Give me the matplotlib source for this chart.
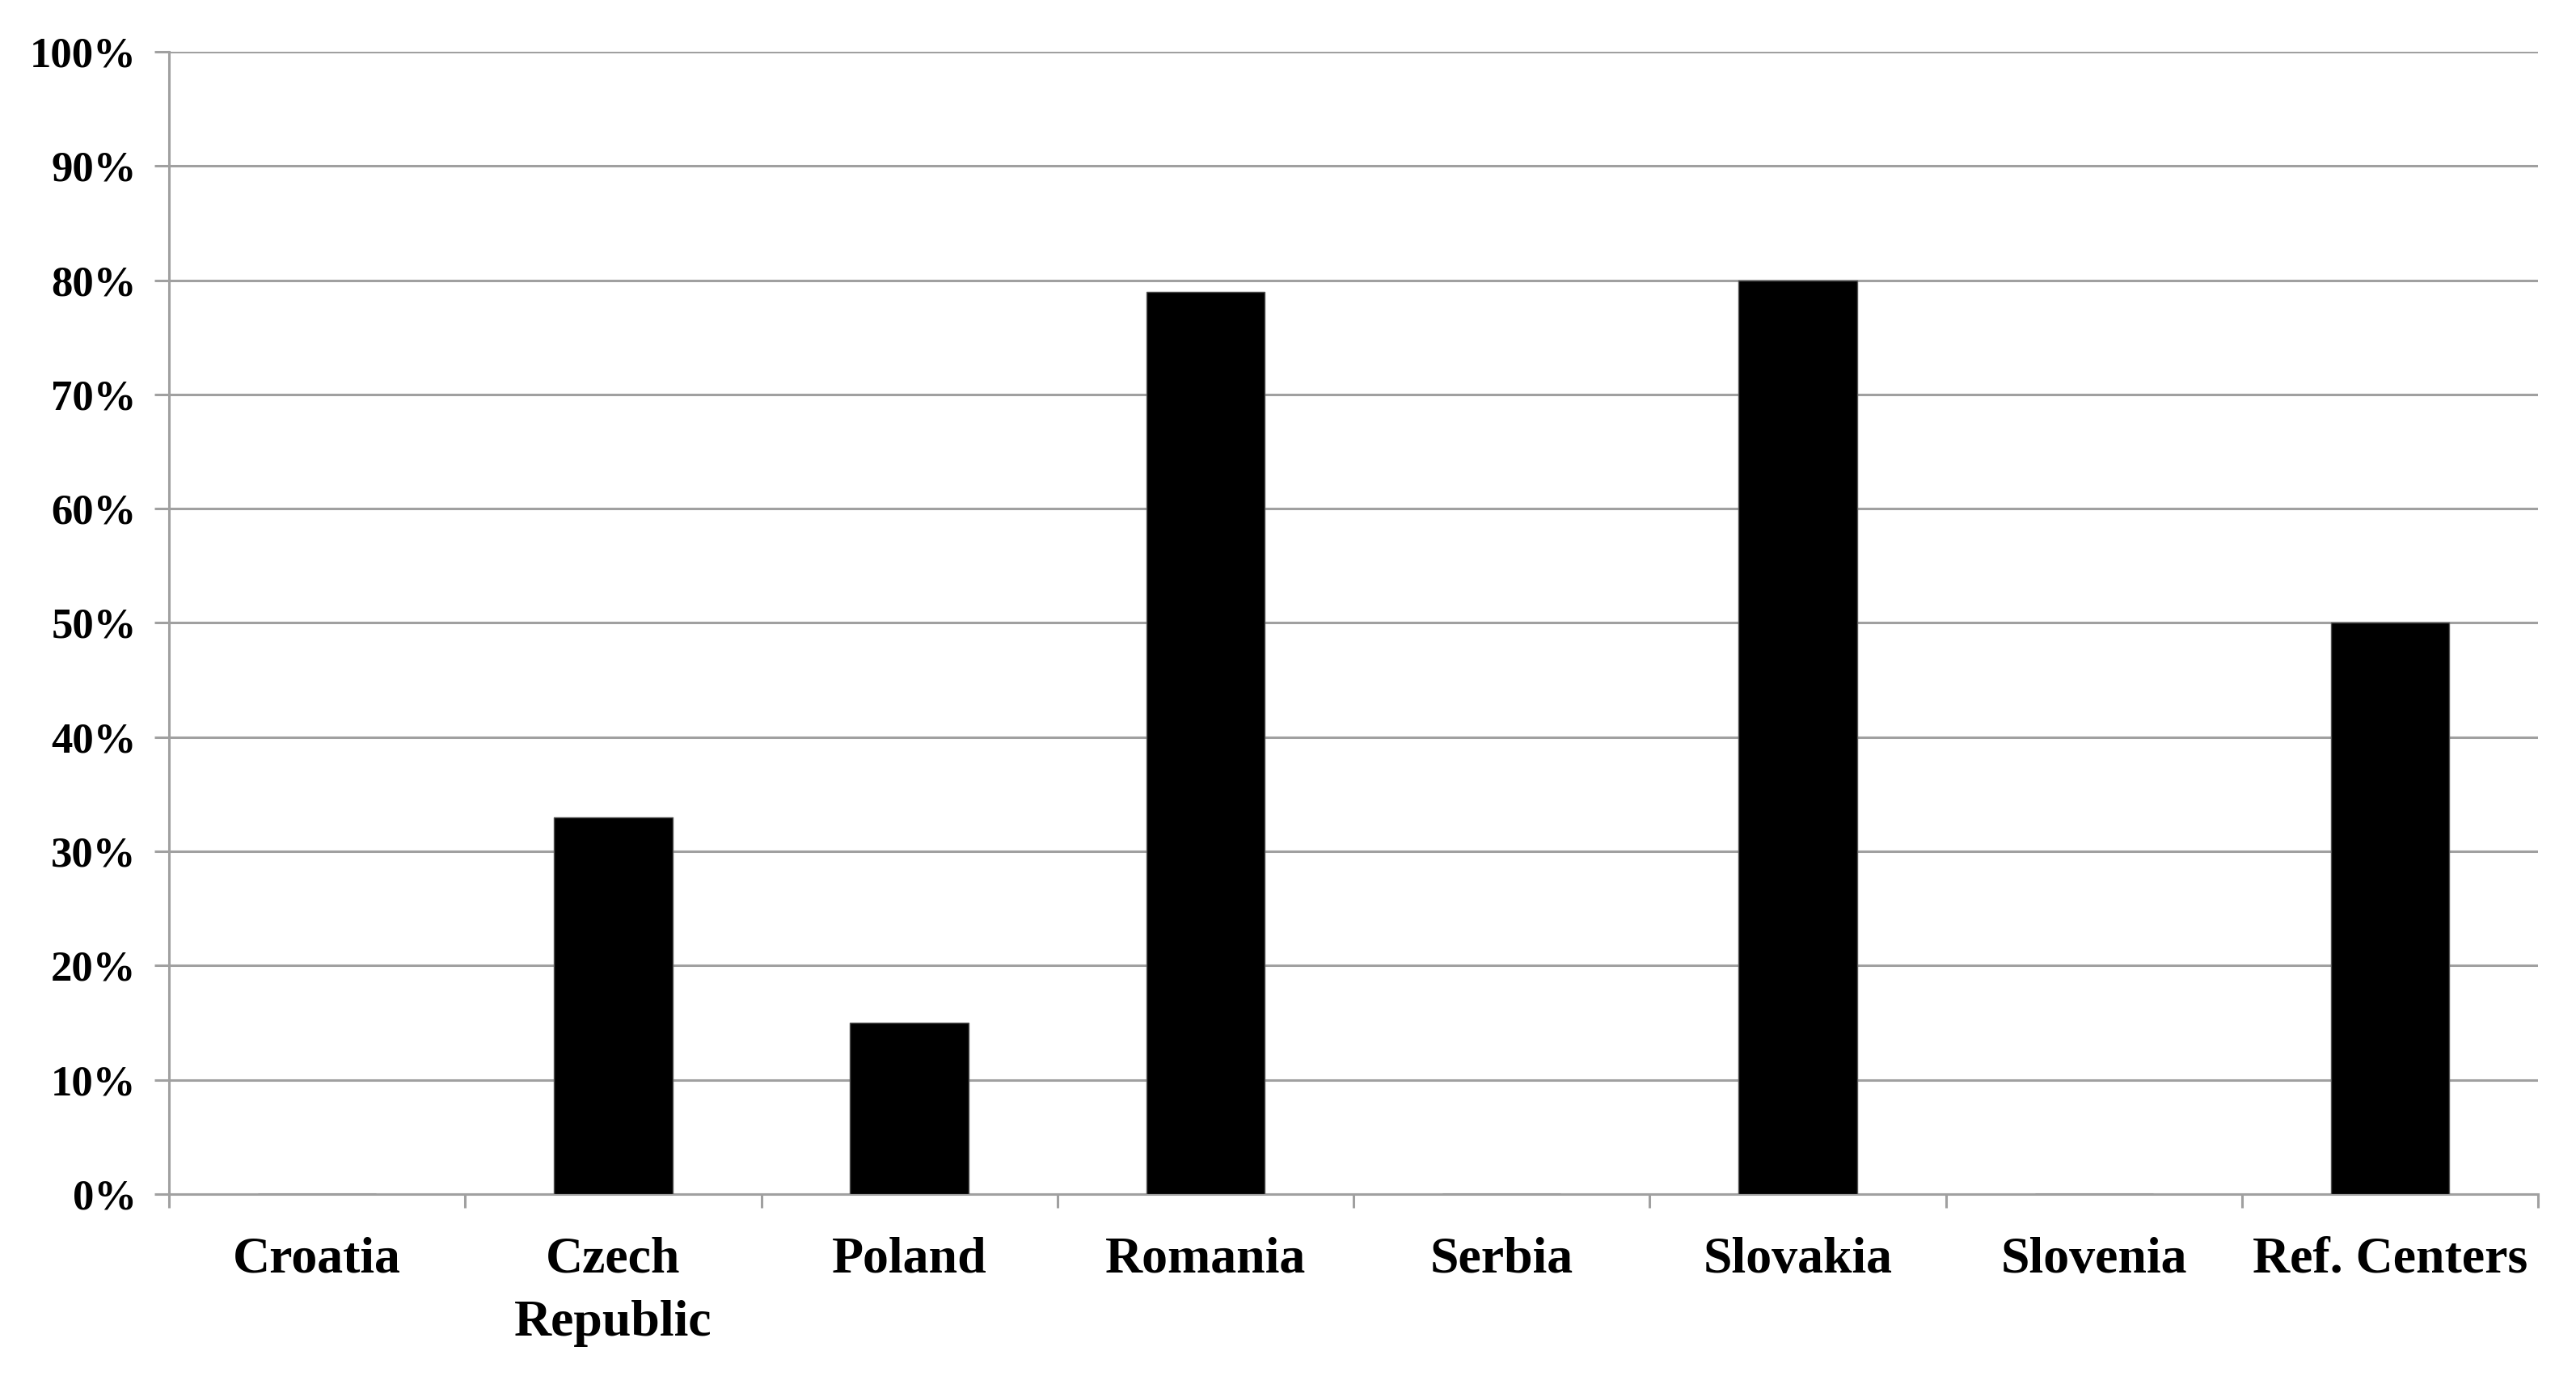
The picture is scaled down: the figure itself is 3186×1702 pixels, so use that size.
import matplotlib
matplotlib.use("Agg")
import matplotlib.pyplot as plt
import numpy as np
from matplotlib.ticker import FixedLocator, PercentFormatter

categories = ["Croatia", "Czech\nRepublic", "Poland", "Romania", "Serbia",
              "Slovakia", "Slovenia", "Ref. Centers"]
values = [0, 33, 15, 79, 0, 80, 0, 50]
yticks = [0, 10, 20, 30, 40, 50, 60, 70, 80, 90, 100]

plt.rcParams['font.family'] = ['Liberation Serif', 'DejaVu Serif']
plt.rcParams['font.weight'] = 'bold'

DPI = 200
fig = plt.figure(figsize=(3186 / DPI, 1702 / DPI), dpi=DPI)
ax = fig.add_axes([0.0656, 0.1322, 0.9853 - 0.0656, 0.9624 - 0.1322])

grey = "#a0a0a0"
x = np.arange(len(categories))
ax.bar(x, values, width=0.4, color="black", edgecolor="#555555", linewidth=0.5, zorder=3)

ax.set_xlim(-0.5, len(categories) - 0.5)
ax.set_ylim(0, 100)
ax.set_yticks(yticks)
ax.yaxis.set_major_formatter(PercentFormatter(decimals=0))
ax.yaxis.grid(True, color=grey, linewidth=1.1, zorder=0)
ax.set_axisbelow(True)

ax.set_xticks(x)
ax.set_xticklabels(categories, fontsize=23, fontweight='bold', linespacing=1.45)
ax.xaxis.set_minor_locator(FixedLocator(np.arange(-0.5, len(categories), 1.0)))
ax.tick_params(axis='x', which='major', length=0, pad=19)
ax.tick_params(axis='x', which='minor', length=6, width=1.1, color=grey)
ax.tick_params(axis='y', which='major', length=6.5, width=1.1, color=grey,
               labelsize=19, pad=8)
for lab in ax.get_yticklabels():
    lab.set_fontweight('bold')

for s in ['top', 'right']:
    ax.spines[s].set_visible(False)
for s in ['left', 'bottom']:
    ax.spines[s].set_color(grey)
    ax.spines[s].set_linewidth(1.1)

fig.savefig("out.png", dpi=DPI, facecolor="white")
